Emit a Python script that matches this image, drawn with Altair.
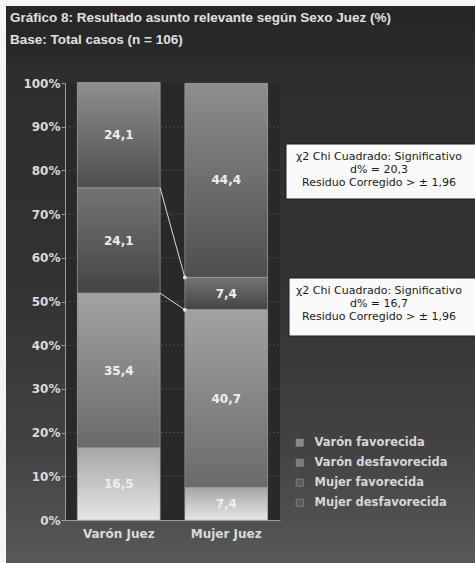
import altair as alt
import pandas as pd
import numpy as np

# --- data -----------------------------------------------------------------
jueces = ["Varón Juez", "Mujer Juez"]
# stacked from the bottom of each bar to the top
categorias = ["Mujer desfavorecida", "Mujer favorecida", "Varón desfavorecida", "Varón favorecida"]
pct_varon = [16.5, 35.4, 24.1, 24.1]
pct_mujer = [7.4, 40.7, 7.4, 44.4]
orden_leyenda = ["Varón favorecida", "Varón desfavorecida", "Mujer favorecida", "Mujer desfavorecida"]
y_ticks = [0, 10, 20, 30, 40, 50, 60, 70, 80, 90, 100]

# segments whose upper edges are joined from one bar to the other
segmentos_unidos = ["Varón desfavorecida", "Mujer favorecida"]
notas = [
    "χ2 Chi Cuadrado: Significativo\nd% = 20,3\nResiduo Corregido > ± 1,96",
    "χ2 Chi Cuadrado: Significativo\nd% = 16,7\nResiduo Corregido > ± 1,96",
]

titulo = "Gráfico 8: Resultado asunto relevante según Sexo Juez (%)"
subtitulo = "Base: Total casos (n = 106)"

# --- tables ---------------------------------------------------------------
rows = []
for juez, vals in zip(jueces, [pct_varon, pct_mujer]):
    for i, (cat, v) in enumerate(zip(categorias, vals)):
        rows.append({"juez": juez, "cat": cat, "pct": v, "orden": i})
df = pd.DataFrame(rows)

cum_v = np.cumsum(pct_varon)
cum_m = np.cumsum(pct_mujer)
df_lineas = pd.DataFrame([
    {"desde": jueces[0], "hasta": jueces[1],
     "y_desde": float(cum_v[categorias.index(c)]),
     "y_hasta": float(cum_m[categorias.index(c)])}
    for c in segmentos_unidos
])
df_grid = pd.DataFrame({"v": y_ticks[1:-1]})
one = pd.DataFrame({"k": [0]})

W, H = 215, 437
FONT = "DejaVu Sans"
LIGHT = "#dadada"

xscale = alt.Scale(domain=jueces, paddingInner=0.23, paddingOuter=0.115)
yscale = alt.Scale(domain=[0, 100], nice=False)

x_axis = alt.Axis(labelAngle=0, labelFont=FONT, labelFontSize=12, labelFontWeight="bold",
                  labelColor=LIGHT, labelPadding=8, ticks=False, domainColor="#9a9a9a",
                  grid=False, zindex=2)
y_axis = alt.Axis(values=y_ticks, labelExpr="datum.value + '%'", labelFont=FONT,
                  labelFontSize=12, labelFontWeight="bold", labelColor=LIGHT,
                  tickSize=4, tickColor="#9a9a9a", domainColor="#9a9a9a",
                  labelPadding=1, grid=False, zindex=2)


def xq(field, **kw):
    return alt.X(field, scale=xscale, title=None, axis=x_axis, **kw)


def yq(field):
    return alt.Y(field, scale=yscale, title=None, axis=y_axis)


def grad(stops):
    return alt.LinearGradient(
        gradient="linear", x1=0, y1=0, x2=0, y2=1,
        stops=[alt.GradientStop(offset=o, color=c) for o, c in stops],
    )


# --- panel backgrounds ----------------------------------------------------
panel = alt.Chart(one).mark_rect(
    fill=grad([(0, "#262626"), (0.1, "#2a2a2a"), (0.105, "#2e2e2e"),
               (0.5, "#323232"), (0.8, "#434343"), (1, "#585858")])
).encode(x=alt.value(-59), x2=alt.value(W + 195), y=alt.value(-77), y2=alt.value(H + 43))

plot_bg = alt.Chart(one).mark_rect(fill="#292929").encode(
    x=alt.value(0), x2=alt.value(W), y=alt.value(0), y2=alt.value(H)
)

grid = alt.Chart(df_grid).mark_rule(color="#4a4a4a", strokeDash=[2, 2], strokeWidth=1).encode(
    y=yq("v:Q"), x=alt.value(0), x2=alt.value(W)
)

# heading lines
cabecera = alt.Chart(one).mark_text(
    font="Liberation Sans", fontSize=13.5, fontWeight="bold", color="#e0e0e0",
    align="left", baseline="middle", lineBreak="\n", lineHeight=22,
).encode(x=alt.value(-55), y=alt.value(-65), text=alt.value(titulo + "\n" + subtitulo))

# --- stacked bars ---------------------------------------------------------
base = alt.Chart(df).transform_stack(
    stack="pct", groupby=["juez"], as_=["y0", "y1"],
    sort=[alt.SortField("orden", order="ascending")],
)

bars_flat = base.mark_bar().encode(
    x=xq("juez:N"), y=yq("y0:Q"), y2="y1:Q",
    color=alt.Color(
        "cat:N",
        scale=alt.Scale(domain=orden_leyenda, range=["#8a8a8a", "#7a7a7a", "#5c5c5c", "#595959"]),
        legend=alt.Legend(
            title=None, orient="none", legendX=229, legendY=354, padding=0,
            symbolType="square", symbolSize=50, symbolStrokeColor="#9a9a9a",
            symbolStrokeWidth=0.6, labelFont=FONT, labelFontSize=11.5,
            labelFontWeight="bold", labelColor="#d6d6d6", labelOffset=9, rowPadding=7,
        ),
    ),
)

gradientes = {
    "Varón favorecida": [(0, "#8e8e8e"), (1, "#4e4e4e")],
    "Varón desfavorecida": [(0, "#747474"), (1, "#444444")],
    "Mujer favorecida": [(0, "#a2a2a2"), (1, "#6a6a6a")],
    "Mujer desfavorecida": [(0, "#a6a6a6"), (1, "#e6e6e6")],
}
bars_grad = [
    base.transform_filter(alt.datum.cat == c).mark_bar(
        fill=grad(st), stroke="#aaaaaa", strokeWidth=1, strokeOpacity=0.55
    ).encode(x=xq("juez:N"), y=yq("y0:Q"), y2="y1:Q")
    for c, st in gradientes.items()
]

labels = base.transform_calculate(
    mid="(datum.y0 + datum.y1) / 2",
    lab="replace(format(datum.pct, '.1f'), '.', ',')",
).mark_text(font=FONT, fontSize=12, fontWeight="bold", color="#eeeeee").encode(
    x=xq("juez:N"), y=yq("mid:Q"), text="lab:N"
)

# --- joining lines between the bars --------------------------------------
lineas = alt.Chart(df_lineas).mark_rule(color="#d8d8d8", strokeWidth=1).encode(
    x=xq("desde:N", bandPosition=1),
    x2=alt.X2("hasta:N", bandPosition=0),
    y=yq("y_desde:Q"),
    y2="y_hasta:Q",
)
puntos = alt.Chart(df_lineas).mark_circle(color="#e6e6e6", size=14, opacity=1).encode(
    x=xq("hasta:N", bandPosition=0),
    y=yq("y_hasta:Q"),
)

# --- note boxes -----------------------------------------------------------
cajas = []
for (top, bottom, left), nota in zip([(61, 116, 221), (195, 253, 224)], notas):
    cajas.append(alt.Chart(one).mark_rect(fill="#fafafa", stroke="#1e1e1e", strokeWidth=1).encode(
        x=alt.value(left), x2=alt.value(W + 200), y=alt.value(top), y2=alt.value(bottom)
    ))
    cajas.append(alt.Chart(one).mark_text(
        font=FONT, fontSize=11, color="#1a1a1a", align="center", baseline="top",
        lineBreak="\n", lineHeight=13,
    ).encode(x=alt.value(314), y=alt.value(top + 7), text=alt.value(nota)))

chart = alt.layer(
    panel, plot_bg, grid, cabecera, bars_flat, *bars_grad, labels, lineas, puntos, *cajas
).properties(
    width=W, height=H,
    padding={"left": 65, "top": 83, "right": 195, "bottom": 43},
    autosize=alt.AutoSizeParams(type="none"),
).configure(background="#f4f4f4").configure_view(stroke=None)

chart.save("out.html", embed_options={"renderer": "svg", "actions": False})
